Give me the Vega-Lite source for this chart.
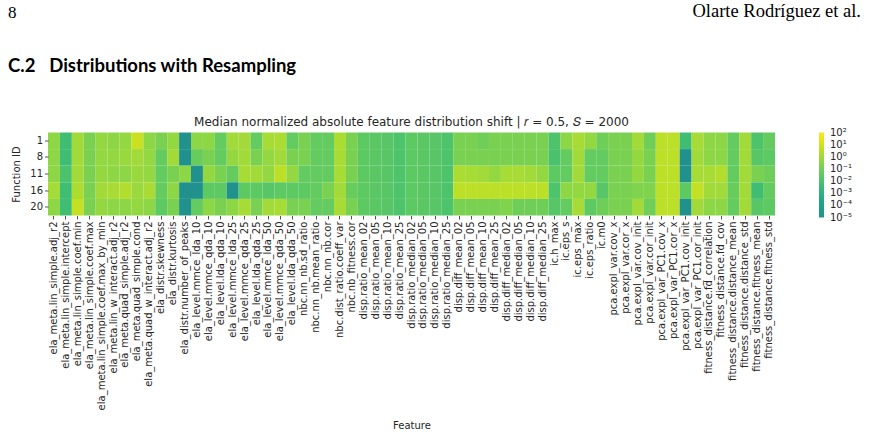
{
  "$schema": "https://vega.github.io/schema/vega-lite/v6.json",
  "background": "white",
  "padding": {"left": 8, "top": 1.5, "right": 8, "bottom": 4},
  "bounds": "flush",
  "spacing": 0,
  "resolve": {"scale": {"color": "independent"}, "legend": {"color": "independent"}},
  "config": {
    "view": {"stroke": null},
    "font": "DejaVu Sans",
    "axis": {
      "labelFont": "DejaVu Sans",
      "titleFont": "DejaVu Sans",
      "labelColor": "#262626",
      "titleColor": "#262626",
      "tickColor": "#262626",
      "labelFontSize": 10,
      "titleFontSize": 10,
      "titleFontWeight": "normal",
      "domain": false,
      "grid": false,
      "tickSize": 3.5,
      "tickWidth": 0.8,
      "labelPadding": 2
    },
    "legend": {
      "labelFont": "DejaVu Sans",
      "labelColor": "#262626",
      "labelFontSize": 10
    }
  },
  "datasets": {
    "empty": [],
    "shift": [
      {"f":"ela_meta.lin_simple.adj_r2","id":1,"v":0.42},{"f":"ela_meta.lin_simple.adj_r2","id":8,"v":0.42},{"f":"ela_meta.lin_simple.adj_r2","id":11,"v":0.42},{"f":"ela_meta.lin_simple.adj_r2","id":16,"v":1.3},{"f":"ela_meta.lin_simple.adj_r2","id":20,"v":0.42},
      {"f":"ela_meta.lin_simple.intercept","id":1,"v":0.0046},{"f":"ela_meta.lin_simple.intercept","id":8,"v":0.0046},{"f":"ela_meta.lin_simple.intercept","id":11,"v":0.011},{"f":"ela_meta.lin_simple.intercept","id":16,"v":0.0046},{"f":"ela_meta.lin_simple.intercept","id":20,"v":0.0046},
      {"f":"ela_meta.lin_simple.coef.min","id":1,"v":1.1},{"f":"ela_meta.lin_simple.coef.min","id":8,"v":1.1},{"f":"ela_meta.lin_simple.coef.min","id":11,"v":1.1},{"f":"ela_meta.lin_simple.coef.min","id":16,"v":2.0},{"f":"ela_meta.lin_simple.coef.min","id":20,"v":5.5},
      {"f":"ela_meta.lin_simple.coef.max","id":1,"v":0.16},{"f":"ela_meta.lin_simple.coef.max","id":8,"v":0.16},{"f":"ela_meta.lin_simple.coef.max","id":11,"v":0.16},{"f":"ela_meta.lin_simple.coef.max","id":16,"v":0.16},{"f":"ela_meta.lin_simple.coef.max","id":20,"v":0.16},
      {"f":"ela_meta.lin_simple.coef.max_by_min","id":1,"v":0.58},{"f":"ela_meta.lin_simple.coef.max_by_min","id":8,"v":0.58},{"f":"ela_meta.lin_simple.coef.max_by_min","id":11,"v":0.58},{"f":"ela_meta.lin_simple.coef.max_by_min","id":16,"v":1.1},{"f":"ela_meta.lin_simple.coef.max_by_min","id":20,"v":0.58},
      {"f":"ela_meta.lin_w_interact.adj_r2","id":1,"v":0.42},{"f":"ela_meta.lin_w_interact.adj_r2","id":8,"v":0.58},{"f":"ela_meta.lin_w_interact.adj_r2","id":11,"v":0.45},{"f":"ela_meta.lin_w_interact.adj_r2","id":16,"v":1.6},{"f":"ela_meta.lin_w_interact.adj_r2","id":20,"v":0.42},
      {"f":"ela_meta.quad_simple.adj_r2","id":1,"v":0.58},{"f":"ela_meta.quad_simple.adj_r2","id":8,"v":0.79},{"f":"ela_meta.quad_simple.adj_r2","id":11,"v":0.42},{"f":"ela_meta.quad_simple.adj_r2","id":16,"v":2.5},{"f":"ela_meta.quad_simple.adj_r2","id":20,"v":0.42},
      {"f":"ela_meta.quad_simple.cond","id":1,"v":7.6},{"f":"ela_meta.quad_simple.cond","id":8,"v":1.1},{"f":"ela_meta.quad_simple.cond","id":11,"v":0.79},{"f":"ela_meta.quad_simple.cond","id":16,"v":0.79},{"f":"ela_meta.quad_simple.cond","id":20,"v":0.58},
      {"f":"ela_meta.quad_w_interact.adj_r2","id":1,"v":0.42},{"f":"ela_meta.quad_w_interact.adj_r2","id":8,"v":0.58},{"f":"ela_meta.quad_w_interact.adj_r2","id":11,"v":0.58},{"f":"ela_meta.quad_w_interact.adj_r2","id":16,"v":1.6},{"f":"ela_meta.quad_w_interact.adj_r2","id":20,"v":0.42},
      {"f":"ela_distr.skewness","id":1,"v":0.16},{"f":"ela_distr.skewness","id":8,"v":0.044},{"f":"ela_distr.skewness","id":11,"v":0.044},{"f":"ela_distr.skewness","id":16,"v":0.044},{"f":"ela_distr.skewness","id":20,"v":0.032},
      {"f":"ela_distr.kurtosis","id":1,"v":0.58},{"f":"ela_distr.kurtosis","id":8,"v":1.1},{"f":"ela_distr.kurtosis","id":11,"v":0.16},{"f":"ela_distr.kurtosis","id":16,"v":0.42},{"f":"ela_distr.kurtosis","id":20,"v":0.16},
      {"f":"ela_distr.number_of_peaks","id":1,"v":0.00001},{"f":"ela_distr.number_of_peaks","id":8,"v":0.00001},{"f":"ela_distr.number_of_peaks","id":11,"v":0.42},{"f":"ela_distr.number_of_peaks","id":16,"v":0.00001},{"f":"ela_distr.number_of_peaks","id":20,"v":0.00001},
      {"f":"ela_level.mmce_lda_10","id":1,"v":0.42},{"f":"ela_level.mmce_lda_10","id":8,"v":0.06},{"f":"ela_level.mmce_lda_10","id":11,"v":0.00001},{"f":"ela_level.mmce_lda_10","id":16,"v":0.00001},{"f":"ela_level.mmce_lda_10","id":20,"v":0.044},
      {"f":"ela_level.mmce_qda_10","id":1,"v":0.42},{"f":"ela_level.mmce_qda_10","id":8,"v":0.16},{"f":"ela_level.mmce_qda_10","id":11,"v":0.58},{"f":"ela_level.mmce_qda_10","id":16,"v":0.032},{"f":"ela_level.mmce_qda_10","id":20,"v":0.42},
      {"f":"ela_level.lda_qda_10","id":1,"v":0.044},{"f":"ela_level.lda_qda_10","id":8,"v":0.044},{"f":"ela_level.lda_qda_10","id":11,"v":0.16},{"f":"ela_level.lda_qda_10","id":16,"v":0.032},{"f":"ela_level.lda_qda_10","id":20,"v":0.16},
      {"f":"ela_level.mmce_lda_25","id":1,"v":1.1},{"f":"ela_level.mmce_lda_25","id":8,"v":0.58},{"f":"ela_level.mmce_lda_25","id":11,"v":0.044},{"f":"ela_level.mmce_lda_25","id":16,"v":0.00001},{"f":"ela_level.mmce_lda_25","id":20,"v":0.42},
      {"f":"ela_level.mmce_qda_25","id":1,"v":1.1},{"f":"ela_level.mmce_qda_25","id":8,"v":1.1},{"f":"ela_level.mmce_qda_25","id":11,"v":1.5},{"f":"ela_level.mmce_qda_25","id":16,"v":0.032},{"f":"ela_level.mmce_qda_25","id":20,"v":1.5},
      {"f":"ela_level.lda_qda_25","id":1,"v":0.044},{"f":"ela_level.lda_qda_25","id":8,"v":0.16},{"f":"ela_level.lda_qda_25","id":11,"v":1.1},{"f":"ela_level.lda_qda_25","id":16,"v":0.032},{"f":"ela_level.lda_qda_25","id":20,"v":0.16},
      {"f":"ela_level.mmce_lda_50","id":1,"v":1.5},{"f":"ela_level.mmce_lda_50","id":8,"v":0.58},{"f":"ela_level.mmce_lda_50","id":11,"v":0.58},{"f":"ela_level.mmce_lda_50","id":16,"v":0.023},{"f":"ela_level.mmce_lda_50","id":20,"v":1.1},
      {"f":"ela_level.mmce_qda_50","id":1,"v":1.8},{"f":"ela_level.mmce_qda_50","id":8,"v":1.1},{"f":"ela_level.mmce_qda_50","id":11,"v":4.0},{"f":"ela_level.mmce_qda_50","id":16,"v":0.032},{"f":"ela_level.mmce_qda_50","id":20,"v":1.5},
      {"f":"ela_level.lda_qda_50","id":1,"v":0.044},{"f":"ela_level.lda_qda_50","id":8,"v":0.16},{"f":"ela_level.lda_qda_50","id":11,"v":0.58},{"f":"ela_level.lda_qda_50","id":16,"v":0.032},{"f":"ela_level.lda_qda_50","id":20,"v":0.16},
      {"f":"nbc.nn_nb.sd_ratio","id":1,"v":0.16},{"f":"nbc.nn_nb.sd_ratio","id":8,"v":0.16},{"f":"nbc.nn_nb.sd_ratio","id":11,"v":0.044},{"f":"nbc.nn_nb.sd_ratio","id":16,"v":0.032},{"f":"nbc.nn_nb.sd_ratio","id":20,"v":0.16},
      {"f":"nbc.nn_nb.mean_ratio","id":1,"v":0.044},{"f":"nbc.nn_nb.mean_ratio","id":8,"v":0.044},{"f":"nbc.nn_nb.mean_ratio","id":11,"v":0.044},{"f":"nbc.nn_nb.mean_ratio","id":16,"v":0.044},{"f":"nbc.nn_nb.mean_ratio","id":20,"v":0.044},
      {"f":"nbc.nn_nb.cor","id":1,"v":0.044},{"f":"nbc.nn_nb.cor","id":8,"v":0.044},{"f":"nbc.nn_nb.cor","id":11,"v":0.044},{"f":"nbc.nn_nb.cor","id":16,"v":0.16},{"f":"nbc.nn_nb.cor","id":20,"v":0.044},
      {"f":"nbc.dist_ratio.coeff_var","id":1,"v":1.8},{"f":"nbc.dist_ratio.coeff_var","id":8,"v":1.5},{"f":"nbc.dist_ratio.coeff_var","id":11,"v":1.5},{"f":"nbc.dist_ratio.coeff_var","id":16,"v":1.1},{"f":"nbc.dist_ratio.coeff_var","id":20,"v":1.5},
      {"f":"nbc.nb_fitness.cor","id":1,"v":0.16},{"f":"nbc.nb_fitness.cor","id":8,"v":0.16},{"f":"nbc.nb_fitness.cor","id":11,"v":0.16},{"f":"nbc.nb_fitness.cor","id":16,"v":0.06},{"f":"nbc.nb_fitness.cor","id":20,"v":0.16},
      {"f":"disp.ratio_mean_02","id":1,"v":0.032},{"f":"disp.ratio_mean_02","id":8,"v":0.032},{"f":"disp.ratio_mean_02","id":11,"v":0.032},{"f":"disp.ratio_mean_02","id":16,"v":0.032},{"f":"disp.ratio_mean_02","id":20,"v":0.032},
      {"f":"disp.ratio_mean_05","id":1,"v":0.027},{"f":"disp.ratio_mean_05","id":8,"v":0.027},{"f":"disp.ratio_mean_05","id":11,"v":0.027},{"f":"disp.ratio_mean_05","id":16,"v":0.027},{"f":"disp.ratio_mean_05","id":20,"v":0.027},
      {"f":"disp.ratio_mean_10","id":1,"v":0.023},{"f":"disp.ratio_mean_10","id":8,"v":0.023},{"f":"disp.ratio_mean_10","id":11,"v":0.023},{"f":"disp.ratio_mean_10","id":16,"v":0.023},{"f":"disp.ratio_mean_10","id":20,"v":0.023},
      {"f":"disp.ratio_mean_25","id":1,"v":0.012},{"f":"disp.ratio_mean_25","id":8,"v":0.012},{"f":"disp.ratio_mean_25","id":11,"v":0.012},{"f":"disp.ratio_mean_25","id":16,"v":0.012},{"f":"disp.ratio_mean_25","id":20,"v":0.012},
      {"f":"disp.ratio_median_02","id":1,"v":0.032},{"f":"disp.ratio_median_02","id":8,"v":0.032},{"f":"disp.ratio_median_02","id":11,"v":0.032},{"f":"disp.ratio_median_02","id":16,"v":0.032},{"f":"disp.ratio_median_02","id":20,"v":0.032},
      {"f":"disp.ratio_median_05","id":1,"v":0.027},{"f":"disp.ratio_median_05","id":8,"v":0.027},{"f":"disp.ratio_median_05","id":11,"v":0.027},{"f":"disp.ratio_median_05","id":16,"v":0.027},{"f":"disp.ratio_median_05","id":20,"v":0.027},
      {"f":"disp.ratio_median_10","id":1,"v":0.023},{"f":"disp.ratio_median_10","id":8,"v":0.023},{"f":"disp.ratio_median_10","id":11,"v":0.023},{"f":"disp.ratio_median_10","id":16,"v":0.023},{"f":"disp.ratio_median_10","id":20,"v":0.023},
      {"f":"disp.ratio_median_25","id":1,"v":0.012},{"f":"disp.ratio_median_25","id":8,"v":0.012},{"f":"disp.ratio_median_25","id":11,"v":0.012},{"f":"disp.ratio_median_25","id":16,"v":0.012},{"f":"disp.ratio_median_25","id":20,"v":0.012},
      {"f":"disp.diff_mean_02","id":1,"v":0.16},{"f":"disp.diff_mean_02","id":8,"v":0.16},{"f":"disp.diff_mean_02","id":11,"v":1.8},{"f":"disp.diff_mean_02","id":16,"v":4.0},{"f":"disp.diff_mean_02","id":20,"v":0.16},
      {"f":"disp.diff_mean_05","id":1,"v":0.16},{"f":"disp.diff_mean_05","id":8,"v":0.16},{"f":"disp.diff_mean_05","id":11,"v":1.5},{"f":"disp.diff_mean_05","id":16,"v":4.0},{"f":"disp.diff_mean_05","id":20,"v":0.16},
      {"f":"disp.diff_mean_10","id":1,"v":0.083},{"f":"disp.diff_mean_10","id":8,"v":0.16},{"f":"disp.diff_mean_10","id":11,"v":1.1},{"f":"disp.diff_mean_10","id":16,"v":4.0},{"f":"disp.diff_mean_10","id":20,"v":0.16},
      {"f":"disp.diff_mean_25","id":1,"v":0.16},{"f":"disp.diff_mean_25","id":8,"v":0.16},{"f":"disp.diff_mean_25","id":11,"v":0.58},{"f":"disp.diff_mean_25","id":16,"v":4.0},{"f":"disp.diff_mean_25","id":20,"v":0.16},
      {"f":"disp.diff_median_02","id":1,"v":0.16},{"f":"disp.diff_median_02","id":8,"v":0.16},{"f":"disp.diff_median_02","id":11,"v":1.5},{"f":"disp.diff_median_02","id":16,"v":4.0},{"f":"disp.diff_median_02","id":20,"v":0.22},
      {"f":"disp.diff_median_05","id":1,"v":0.16},{"f":"disp.diff_median_05","id":8,"v":0.16},{"f":"disp.diff_median_05","id":11,"v":1.5},{"f":"disp.diff_median_05","id":16,"v":4.0},{"f":"disp.diff_median_05","id":20,"v":0.083},
      {"f":"disp.diff_median_10","id":1,"v":0.16},{"f":"disp.diff_median_10","id":8,"v":0.16},{"f":"disp.diff_median_10","id":11,"v":1.1},{"f":"disp.diff_median_10","id":16,"v":4.0},{"f":"disp.diff_median_10","id":20,"v":0.083},
      {"f":"disp.diff_median_25","id":1,"v":0.16},{"f":"disp.diff_median_25","id":8,"v":0.16},{"f":"disp.diff_median_25","id":11,"v":0.58},{"f":"disp.diff_median_25","id":16,"v":4.0},{"f":"disp.diff_median_25","id":20,"v":0.083},
      {"f":"ic.h_max","id":1,"v":0.012},{"f":"ic.h_max","id":8,"v":0.01},{"f":"ic.h_max","id":11,"v":0.032},{"f":"ic.h_max","id":16,"v":0.012},{"f":"ic.h_max","id":20,"v":0.023},
      {"f":"ic.eps_s","id":1,"v":0.42},{"f":"ic.eps_s","id":8,"v":0.044},{"f":"ic.eps_s","id":11,"v":0.044},{"f":"ic.eps_s","id":16,"v":0.42},{"f":"ic.eps_s","id":20,"v":0.044},
      {"f":"ic.eps_max","id":1,"v":1.5},{"f":"ic.eps_max","id":8,"v":1.1},{"f":"ic.eps_max","id":11,"v":1.1},{"f":"ic.eps_max","id":16,"v":0.58},{"f":"ic.eps_max","id":20,"v":1.5},
      {"f":"ic.eps_ratio","id":1,"v":0.58},{"f":"ic.eps_ratio","id":8,"v":0.044},{"f":"ic.eps_ratio","id":11,"v":0.044},{"f":"ic.eps_ratio","id":16,"v":0.58},{"f":"ic.eps_ratio","id":20,"v":0.032},
      {"f":"ic.m0","id":1,"v":0.083},{"f":"ic.m0","id":8,"v":0.044},{"f":"ic.m0","id":11,"v":0.044},{"f":"ic.m0","id":16,"v":0.023},{"f":"ic.m0","id":20,"v":0.083},
      {"f":"pca.expl_var.cov_x","id":1,"v":0.16},{"f":"pca.expl_var.cov_x","id":8,"v":0.16},{"f":"pca.expl_var.cov_x","id":11,"v":0.16},{"f":"pca.expl_var.cov_x","id":16,"v":0.16},{"f":"pca.expl_var.cov_x","id":20,"v":0.16},
      {"f":"pca.expl_var.cor_x","id":1,"v":0.16},{"f":"pca.expl_var.cor_x","id":8,"v":0.16},{"f":"pca.expl_var.cor_x","id":11,"v":0.16},{"f":"pca.expl_var.cor_x","id":16,"v":0.16},{"f":"pca.expl_var.cor_x","id":20,"v":0.16},
      {"f":"pca.expl_var.cov_init","id":1,"v":1.1},{"f":"pca.expl_var.cov_init","id":8,"v":0.58},{"f":"pca.expl_var.cov_init","id":11,"v":0.58},{"f":"pca.expl_var.cov_init","id":16,"v":0.22},{"f":"pca.expl_var.cov_init","id":20,"v":1.1},
      {"f":"pca.expl_var.cor_init","id":1,"v":0.083},{"f":"pca.expl_var.cor_init","id":8,"v":0.16},{"f":"pca.expl_var.cor_init","id":11,"v":0.16},{"f":"pca.expl_var.cor_init","id":16,"v":0.22},{"f":"pca.expl_var.cor_init","id":20,"v":0.083},
      {"f":"pca.expl_var_PC1.cov_x","id":1,"v":4.0},{"f":"pca.expl_var_PC1.cov_x","id":8,"v":4.0},{"f":"pca.expl_var_PC1.cov_x","id":11,"v":4.0},{"f":"pca.expl_var_PC1.cov_x","id":16,"v":4.0},{"f":"pca.expl_var_PC1.cov_x","id":20,"v":4.0},
      {"f":"pca.expl_var_PC1.cor_x","id":1,"v":4.0},{"f":"pca.expl_var_PC1.cor_x","id":8,"v":4.0},{"f":"pca.expl_var_PC1.cor_x","id":11,"v":4.0},{"f":"pca.expl_var_PC1.cor_x","id":16,"v":4.0},{"f":"pca.expl_var_PC1.cor_x","id":20,"v":4.0},
      {"f":"pca.expl_var_PC1.cov_init","id":1,"v":0.0046},{"f":"pca.expl_var_PC1.cov_init","id":8,"v":0.00001},{"f":"pca.expl_var_PC1.cov_init","id":11,"v":0.00001},{"f":"pca.expl_var_PC1.cov_init","id":16,"v":0.032},{"f":"pca.expl_var_PC1.cov_init","id":20,"v":0.00001},
      {"f":"pca.expl_var_PC1.cor_init","id":1,"v":1.5},{"f":"pca.expl_var_PC1.cor_init","id":8,"v":1.1},{"f":"pca.expl_var_PC1.cor_init","id":11,"v":1.5},{"f":"pca.expl_var_PC1.cor_init","id":16,"v":5.5},{"f":"pca.expl_var_PC1.cor_init","id":20,"v":1.1},
      {"f":"fitness_distance.fd_correlation","id":1,"v":0.42},{"f":"fitness_distance.fd_correlation","id":8,"v":0.42},{"f":"fitness_distance.fd_correlation","id":11,"v":1.5},{"f":"fitness_distance.fd_correlation","id":16,"v":1.1},{"f":"fitness_distance.fd_correlation","id":20,"v":0.42},
      {"f":"fitness_distance.fd_cov","id":1,"v":0.42},{"f":"fitness_distance.fd_cov","id":8,"v":0.42},{"f":"fitness_distance.fd_cov","id":11,"v":2.5},{"f":"fitness_distance.fd_cov","id":16,"v":1.1},{"f":"fitness_distance.fd_cov","id":20,"v":0.42},
      {"f":"fitness_distance.distance_mean","id":1,"v":0.044},{"f":"fitness_distance.distance_mean","id":8,"v":0.044},{"f":"fitness_distance.distance_mean","id":11,"v":0.044},{"f":"fitness_distance.distance_mean","id":16,"v":0.06},{"f":"fitness_distance.distance_mean","id":20,"v":0.044},
      {"f":"fitness_distance.distance_std","id":1,"v":1.1},{"f":"fitness_distance.distance_std","id":8,"v":1.1},{"f":"fitness_distance.distance_std","id":11,"v":1.1},{"f":"fitness_distance.distance_std","id":16,"v":1.1},{"f":"fitness_distance.distance_std","id":20,"v":1.1},
      {"f":"fitness_distance.fitness_mean","id":1,"v":0.012},{"f":"fitness_distance.fitness_mean","id":8,"v":0.023},{"f":"fitness_distance.fitness_mean","id":11,"v":0.16},{"f":"fitness_distance.fitness_mean","id":16,"v":0.0046},{"f":"fitness_distance.fitness_mean","id":20,"v":0.023},
      {"f":"fitness_distance.fitness_std","id":1,"v":0.044},{"f":"fitness_distance.fitness_std","id":8,"v":0.032},{"f":"fitness_distance.fitness_std","id":11,"v":0.083},{"f":"fitness_distance.fitness_std","id":16,"v":0.044},{"f":"fitness_distance.fitness_std","id":20,"v":0.032}
    ]
  },
  "vconcat": [
    {
      "width": 400,
      "height": 1,
      "data": {"name": "empty"},
      "mark": "rect",
      "encoding": {},
      "title": {"text": "8", "anchor": "start", "frame": "group", "dx": -40, "offset": 3, "baseline": "alphabetic", "font": "Liberation Serif", "fontSize": 17, "fontWeight": "normal", "color": "#000000"}
    },
    {
      "width": 813,
      "height": 53.8,
      "data": {"name": "empty"},
      "mark": "rect",
      "encoding": {},
      "title": {"text": "Olarte Rodríguez et al.", "anchor": "end", "frame": "group", "offset": 3, "baseline": "alphabetic", "font": "Liberation Serif", "fontSize": 18.5, "fontWeight": "normal", "color": "#000000"}
    },
    {
      "width": 727,
      "height": 39.4,
      "data": {"name": "empty"},
      "mark": "rect",
      "encoding": {},
      "title": {"text": "C.2\u2003Distributions with Resampling", "anchor": "start", "frame": "group", "dx": -40, "offset": 2, "baseline": "alphabetic", "font": "Lato", "fontSize": 18.5, "fontWeight": "bold", "color": "#000000"}
    },
    {
      "width": 727,
      "height": 83,
      "data": {"name": "shift"},
      "title": {"text": "Median normalized absolute feature distribution shift | 𝑟 = 0.5, 𝑆 = 2000", "anchor": "middle", "offset": -5.5, "baseline": "alphabetic", "font": "DejaVu Sans", "fontSize": 12, "fontWeight": "normal", "color": "#262626"},
      "mark": {"type": "rect"},
      "encoding": {
        "x": {
          "field": "f",
          "type": "nominal",
          "sort": null,
          "scale": {"paddingInner": 0, "paddingOuter": 0},
          "axis": {"title": "Feature", "labelAngle": -90, "labelLimit": 300, "titlePadding": 11}
        },
        "y": {
          "field": "id",
          "type": "ordinal",
          "scale": {"paddingInner": 0, "paddingOuter": 0},
          "axis": {"title": "Function ID", "labelAngle": 0, "titlePadding": 8}
        },
        "color": {
          "field": "v",
          "type": "quantitative",
          "scale": {"type": "log", "domain": [0.00001, 100], "clamp": true, "scheme": {"name": "viridis", "extent": [0.5, 1]}},
          "legend": {
            "title": null,
            "orient": "right",
            "offset": 44,
            "direction": "vertical",
            "gradientLength": 85,
            "gradientThickness": 5,
            "gradientStrokeWidth": 0,
            "values": [0.00001, 0.0001, 0.001, 0.01, 0.1, 1, 10, 100],
            "labelOverlap": false,
            "labelOffset": 6,
            "labelExpr": "['10⁻⁵','10⁻⁴','10⁻³','10⁻²','10⁻¹','10⁰','10¹','10²'][round(log(datum.value) / LN10) + 5]",
            "encode": {"labels": {"update": {"baseline": {"value": "middle"}}}}
          }
        }
      }
    }
  ]
}
